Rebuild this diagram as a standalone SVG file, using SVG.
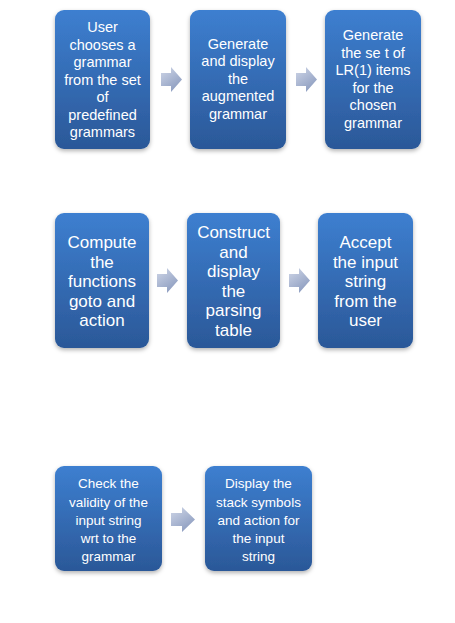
<svg xmlns="http://www.w3.org/2000/svg" width="455" height="623" viewBox="0 0 455 623">
<defs>
<linearGradient id="boxg" x1="0" y1="0" x2="0" y2="1">
<stop offset="0" stop-color="#3d7fd0"/>
<stop offset="1" stop-color="#2b5898"/>
</linearGradient>
<linearGradient id="arrg" x1="0" y1="0" x2="0.6" y2="1">
<stop offset="0" stop-color="#d0d7e8"/>
<stop offset="1" stop-color="#8d9dc0"/>
</linearGradient>
<filter id="sh" x="-20%" y="-20%" width="140%" height="140%">
<feDropShadow dx="0" dy="2" stdDeviation="2" flood-color="#000" flood-opacity="0.3"/>
</filter>
</defs>
<style>
.box{fill:url(#boxg);filter:url(#sh)}
.arr{fill:url(#arrg)}
text{font-family:"Liberation Sans",Arial,sans-serif;fill:#fff;text-anchor:middle}
.s1{font-size:14.5px}
.s2{font-size:17px}
.s3{font-size:13.5px}
</style>
<rect width="455" height="623" fill="#fff"/>
<g id="connectors">
<path class="arr" d="M161,73 H171 V67 L182,79.5 L171,92 V86 H161 Z"/>
<path class="arr" d="M296,73 H306 V67 L317,79.5 L306,92 V86 H296 Z"/>
<path class="arr" d="M157,274 H167 V268 L178,280.5 L167,293 V287 H157 Z"/>
<path class="arr" d="M289,274 H299 V268 L310,280.5 L299,293 V287 H289 Z"/>
<path class="arr" d="M171,513 H182 V507 L195,519.5 L182,532 V526 H171 Z"/>
</g>
<g id="n1">
<rect class="box" x="55" y="10" width="95" height="139" rx="9"/>
<text class="s1"><tspan x="102.5" y="32">User</tspan><tspan x="102.5" y="49.5">chooses a</tspan><tspan x="102.5" y="67">grammar</tspan><tspan x="102.5" y="84.5">from the set</tspan><tspan x="102.5" y="102">of</tspan><tspan x="102.5" y="119.5">predefined</tspan><tspan x="102.5" y="137">grammars</tspan></text>
</g>
<g id="n2">
<rect class="box" x="190" y="10" width="96" height="139" rx="9"/>
<text class="s1"><tspan x="238" y="48.5">Generate</tspan><tspan x="238" y="66">and display</tspan><tspan x="238" y="83.5">the</tspan><tspan x="238" y="101">augmented</tspan><tspan x="238" y="118.5">grammar</tspan></text>
</g>
<g id="n3">
<rect class="box" x="325" y="10" width="96" height="139" rx="9"/>
<text class="s1"><tspan x="373" y="40">Generate</tspan><tspan x="373" y="57.5">the se t of</tspan><tspan x="373" y="75">LR(1) items</tspan><tspan x="373" y="92.5">for the</tspan><tspan x="373" y="110">chosen</tspan><tspan x="373" y="127.5">grammar</tspan></text>
</g>
<g id="n4">
<rect class="box" x="55" y="213" width="94" height="135" rx="9"/>
<text class="s2"><tspan x="102" y="248">Compute</tspan><tspan x="102" y="267.5">the</tspan><tspan x="102" y="287">functions</tspan><tspan x="102" y="306.5">goto and</tspan><tspan x="102" y="326">action</tspan></text>
</g>
<g id="n5">
<rect class="box" x="187" y="213" width="93" height="135" rx="9"/>
<text class="s2"><tspan x="233.5" y="238">Construct</tspan><tspan x="233.5" y="257.5">and</tspan><tspan x="233.5" y="277">display</tspan><tspan x="233.5" y="296.5">the</tspan><tspan x="233.5" y="316">parsing</tspan><tspan x="233.5" y="335.5">table</tspan></text>
</g>
<g id="n6">
<rect class="box" x="318" y="213" width="95" height="135" rx="9"/>
<text class="s2"><tspan x="365.5" y="248">Accept</tspan><tspan x="365.5" y="267.5">the input</tspan><tspan x="365.5" y="287">string</tspan><tspan x="365.5" y="306.5">from the</tspan><tspan x="365.5" y="326">user</tspan></text>
</g>
<g id="n7">
<rect class="box" x="55" y="466" width="107" height="105" rx="9"/>
<text class="s3"><tspan x="108.5" y="488">Check the</tspan><tspan x="108.5" y="506.5">validity of the</tspan><tspan x="108.5" y="524.5">input string</tspan><tspan x="108.5" y="542.5">wrt to the</tspan><tspan x="108.5" y="560.5">grammar</tspan></text>
</g>
<g id="n8">
<rect class="box" x="205" y="466" width="107" height="105" rx="9"/>
<text class="s3"><tspan x="258.5" y="488">Display the</tspan><tspan x="258.5" y="506.5">stack symbols</tspan><tspan x="258.5" y="524.5">and action for</tspan><tspan x="258.5" y="542.5">the input</tspan><tspan x="258.5" y="560.5">string</tspan></text>
</g>
</svg>
